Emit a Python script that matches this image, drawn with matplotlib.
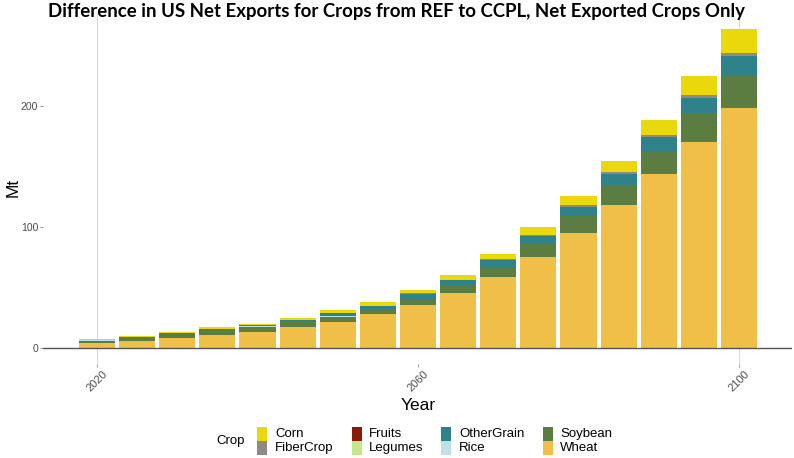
import matplotlib
matplotlib.use("Agg")
import matplotlib.pyplot as plt
from matplotlib.patches import Rectangle
import numpy as np

years = [2020, 2025, 2030, 2035, 2040, 2045, 2050, 2055, 2060, 2065, 2070, 2075, 2080, 2085, 2090, 2095, 2100]

wheat      = [4.4, 6.0, 8.0, 10.5, 13.5, 17.1, 21.8, 27.8, 35.5, 45.7, 58.9, 75.2, 95.0, 118.2, 143.5, 170.5, 198.6]
soybean    = [1.8, 2.9, 3.3, 4.1, 4.0, 4.1, 4.1, 4.2, 4.7, 6.4, 8.3, 11.3, 14.3, 16.3, 19.6, 23.5, 27.0]
rice       = [0.05, 0.05, 0.05, 0.1, 0.4, 0.2, 0.9, 0.3, 0.2, 0.0, 0.0, 0.0, 0.0, 0.0, 0.0, 0.0, 0.0]
othergrain = [0.4, 0.4, 0.8, 1.1, 1.0, 1.7, 2.3, 2.6, 4.4, 4.2, 5.2, 6.1, 7.5, 9.3, 11.0, 12.9, 15.7]
legumes    = [0.0, 0.0, 0.0, 0.0, 0.0, 0.0, 0.0, 0.0, 0.0, 0.0, 0.0, 0.0, 0.0, 0.0, 0.0, 0.0, 0.0]
fruits     = [0.0, 0.0, 0.0, 0.0, 0.0, 0.0, 0.0, 0.0, 0.0, 0.0, 0.0, 0.0, 0.0, 0.0, 0.0, 0.0, 0.0]
fibercrop  = [0.05, 0.05, 0.1, 0.1, 0.1, 0.1, 0.2, 0.2, 0.3, 0.3, 0.8, 0.5, 1.1, 1.7, 1.9, 2.2, 2.2]
corn       = [0.6, 0.9, 0.9, 1.4, 1.1, 1.9, 1.9, 3.0, 3.0, 3.9, 4.4, 6.6, 7.7, 9.3, 12.4, 15.7, 20.1]

crops = ["Corn", "FiberCrop", "Fruits", "Legumes", "OtherGrain", "Rice", "Soybean", "Wheat"]
series = {"Corn": corn, "FiberCrop": fibercrop, "Fruits": fruits, "Legumes": legumes,
          "OtherGrain": othergrain, "Rice": rice, "Soybean": soybean, "Wheat": wheat}
colors = {"Corn": "#EBD80C", "FiberCrop": "#8F8A82", "Fruits": "#8C1A0B", "Legumes": "#C4E68C",
          "OtherGrain": "#2F8289", "Rice": "#BFE0E6", "Soybean": "#5B7D42", "Wheat": "#F0BF47"}

x_ticks = [2020, 2060, 2100]
y_ticks = [0, 100, 200]

W, H = 794, 458
fig = plt.figure(figsize=(W / 100, H / 100), dpi=100)
ax = fig.add_axes([43 / W, 1 - 364 / H, (792 - 43) / W, (364 - 13) / H])

x = np.array(years, dtype=float)
bottom = np.zeros(len(years))
for c in reversed(crops):
    v = np.array(series[c], dtype=float)
    ax.bar(x, v, width=4.5, bottom=bottom, color=colors[c], linewidth=0, zorder=2)
    bottom += v

ax.set_xlim(2013.27, 2106.6)
ax.set_ylim(-13.2, 276.8)

for xv in [2020, 2100]:
    ax.axvline(xv, color="#D9D9D9", linewidth=0.7, zorder=0)
ax.axhline(0, color="#555555", linewidth=1.0, zorder=3)

for s in ax.spines.values():
    s.set_visible(False)

ax.set_xticks(x_ticks)
ax.set_xticklabels([str(t) for t in x_ticks], rotation=45, ha="center", va="center",
                   rotation_mode="anchor", fontsize=8, color="#4D4D4D", family="Liberation Sans")
ax.set_yticks(y_ticks)
ax.set_yticklabels([str(t) for t in y_ticks], fontsize=7.5, color="#4D4D4D", family="Liberation Sans")
ax.tick_params(axis="both", length=2, width=0.6, color="#888888", pad=1.5)
ax.tick_params(axis="x", pad=10)

fig.text(418 / W, 1 - 405 / H, "Year", ha="center", va="center", fontsize=12.5, family="Liberation Sans")
fig.text(13 / W, 1 - 187 / H, "Mt", ha="center", va="center", rotation=90, fontsize=12.5, family="Liberation Sans")

title = fig.text(0.5, 1 - 11 / H, "Difference in US Net Exports for Crops from REF to CCPL, Net Exported Crops Only",
                 ha="center", va="center", fontsize=13, fontweight="bold", family="Lato")
fig.canvas.draw()
bb = title.get_window_extent()
title.set_fontsize(13 * 695 / bb.width)

# legend
fig.text(216 / W, 1 - 441 / H, "Crop", ha="left", va="center", fontsize=9.5, family="Liberation Sans")
key_x = [257, 352, 441, 543]
txt_x = [275, 369, 459, 560]
row_top = [427, 441]
for i, c in enumerate(crops):
    col, row = i // 2, i % 2
    fig.patches.append(Rectangle((key_x[col] / W, 1 - (row_top[row] + 13.5) / H), 10 / W, 13.5 / H,
                                 transform=fig.transFigure, facecolor=colors[c], edgecolor="none"))
    fig.text(txt_x[col] / W, 1 - (row_top[row] + 7) / H, c, ha="left", va="center",
             fontsize=9.5, family="Liberation Sans")

fig.savefig("out.png", dpi=100)
